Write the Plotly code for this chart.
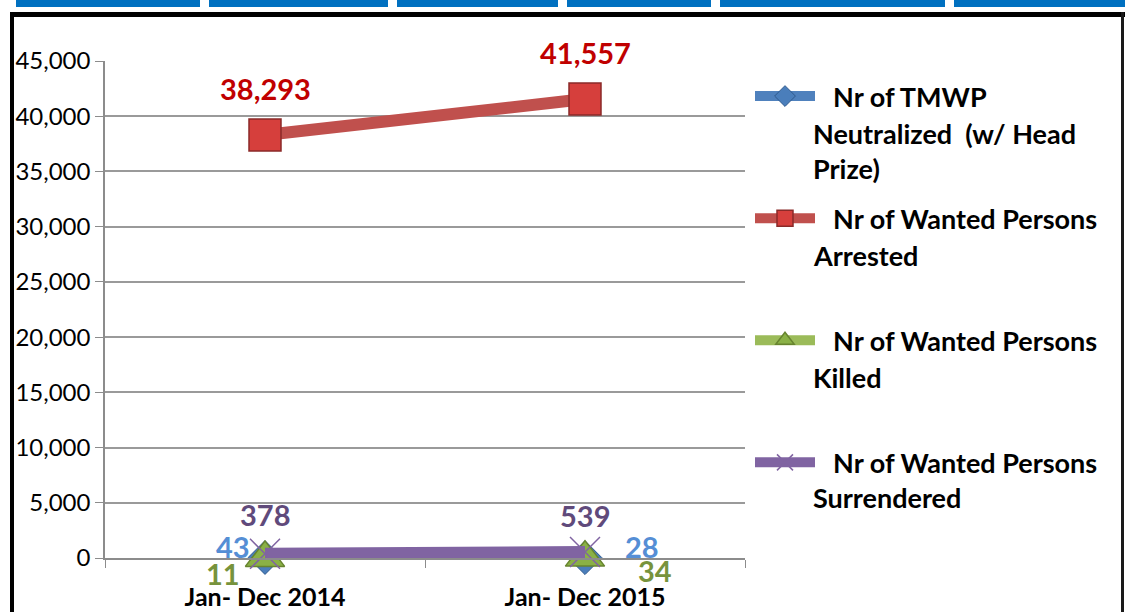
"""Wanted persons line chart, 2014 vs 2015."""
import plotly.graph_objects as go

W, H = 1125, 612

categories = ["Jan- Dec 2014", "Jan- Dec 2015"]
tmwp_neutralized = [43, 28]
wanted_arrested = [38293, 41557]
wanted_killed = [11, 34]
wanted_surrendered = [378, 539]

legend_first = ["Nr of TMWP", "Nr of Wanted Persons", "Nr of Wanted Persons", "Nr of Wanted Persons"]
legend_rest = ["Neutralized  (w/ Head<br>Prize)", "Arrested", "Killed", "Surrendered"]

FONT = "Lato, 'Open Sans', sans-serif"
NBSP = "\u00a0"


def px_x(x):
    return x / W


def px_y(y):
    return 1 - y / H


fig = go.Figure()

series = [
    (legend_first[0], tmwp_neutralized, "#4F81BD",
     dict(symbol="diamond", size=26, color="#4A7EBB", line=dict(color="#2F5A8E", width=1))),
    (legend_first[1], wanted_arrested, "#C0504D",
     dict(symbol="square", size=32, color="#D63F3C", line=dict(color="#8A2A28", width=1.5))),
    (legend_first[2], wanted_killed, "#9BBB59",
     dict(symbol="triangle-up", size=34, color="#8AB146", line=dict(color="#67842F", width=1.5))),
    (legend_first[3], wanted_surrendered, "#8064A2",
     dict(symbol="x-thin-open", size=30, color="#8064A2", line=dict(color="#8064A2", width=1.5))),
]

for i, (name, vals, col, mk) in enumerate(series):
    fig.add_trace(go.Scatter(
        x=categories, y=vals, name=NBSP * 2 + name, mode="lines+markers",
        line=dict(color=col, width=12),
        marker=mk, legendgroup=f"g{i}", cliponaxis=False,
    ))

# data labels (value, colour, pixel offsets)
label_style = [
    (tmwp_neutralized, "#558ED5", [(-32, 11), (57, 11)]),
    (wanted_arrested, "#C00000", [(0, 47), (0, 47)]),
    (wanted_killed, "#77933C", [(-42, -16), (70, -13)]),
    (wanted_surrendered, "#604A7B", [(0, 39), (0, 37)]),
]
for vals, col, shifts in label_style:
    for cat, v, (dx, dy) in zip(categories, vals, shifts):
        fig.add_annotation(
            x=cat, y=v, text=f"{v:,}", showarrow=False,
            xshift=dx, yshift=dy,
            font=dict(family=FONT, size=29, color=col, weight="bold"),
        )

# legend continuation lines
legend_rows = [[133, 168], [255], [377], [497]]
for txt, rows in zip(legend_rest, legend_rows):
    for line, y in zip(txt.split("<br>"), rows):
        fig.add_annotation(
            xref="paper", yref="paper", x=px_x(811), y=px_y(y),
            xanchor="left", yanchor="middle", text=line, showarrow=False,
            font=dict(family=FONT, size=27, color="#000000", weight="bold"),
        )

# slide decoration: blue tabs and black frame
shapes = []
for x0, x1 in [(16, 200), (209, 388), (397, 558), (567, 711), (720, 945), (954, 1125)]:
    shapes.append(dict(type="rect", xref="paper", yref="paper",
                       x0=px_x(x0), x1=px_x(x1), y0=px_y(7), y1=1,
                       fillcolor="#0070C0", line_width=0, layer="below"))
shapes.append(dict(type="rect", xref="paper", yref="paper",
                   x0=px_x(10), x1=1, y0=px_y(17), y1=px_y(12),
                   fillcolor="#000000", line_width=0))
shapes.append(dict(type="rect", xref="paper", yref="paper",
                   x0=px_x(10), x1=px_x(14), y0=0, y1=px_y(12),
                   fillcolor="#000000", line_width=0))
shapes.append(dict(type="rect", xref="paper", yref="paper",
                   x0=px_x(1121), x1=px_x(1124), y0=0, y1=px_y(12),
                   fillcolor="#1A1A1A", line_width=0))

fig.update_layout(
    width=W, height=H, autosize=False,
    margin=dict(l=0, r=0, t=0, b=0, pad=0, autoexpand=False),
    plot_bgcolor="#FFFFFF", paper_bgcolor="#FFFFFF",
    font=dict(family=FONT, color="#000000"),
    shapes=shapes,
    showlegend=True,
    legend=dict(
        x=px_x(750), y=px_y(72), xanchor="left", yanchor="top",
        font=dict(family=FONT, size=27, color="#000000", weight="bold"),
        tracegroupgap=84, itemwidth=60, traceorder="grouped",
        bgcolor="rgba(0,0,0,0)",
    ),
)
fig.update_xaxes(
    domain=[px_x(105), px_x(745)], range=[-0.5, 1.5],
    showline=True, linecolor="#8C8C8C", linewidth=1.5,
    ticks="outside", ticklen=8, tickcolor="#8C8C8C", tickson="boundaries",
    tickfont=dict(family=FONT, size=25, color="#000000", weight="bold"),
    ticklabelstandoff=16,
    showgrid=False, zeroline=False, automargin=False,
)
fig.update_yaxes(
    domain=[1 - 558 / H, 1 - 61 / H], range=[0, 45000], dtick=5000,
    tickformat=",", showgrid=True, gridcolor="#9A9A9A", gridwidth=1.5,
    showline=True, linecolor="#8C8C8C", linewidth=1.5,
    ticks="outside", ticklen=8, tickcolor="#8C8C8C",
    tickfont=dict(family=FONT, size=24, color="#000000"),
    zeroline=False, automargin=False,
)

# page body has a default 8px margin; drop it so the figure sits at the corner
fig.write_html("out.html", config={"displayModeBar": False},
               post_script="document.body.style.margin='0';")
